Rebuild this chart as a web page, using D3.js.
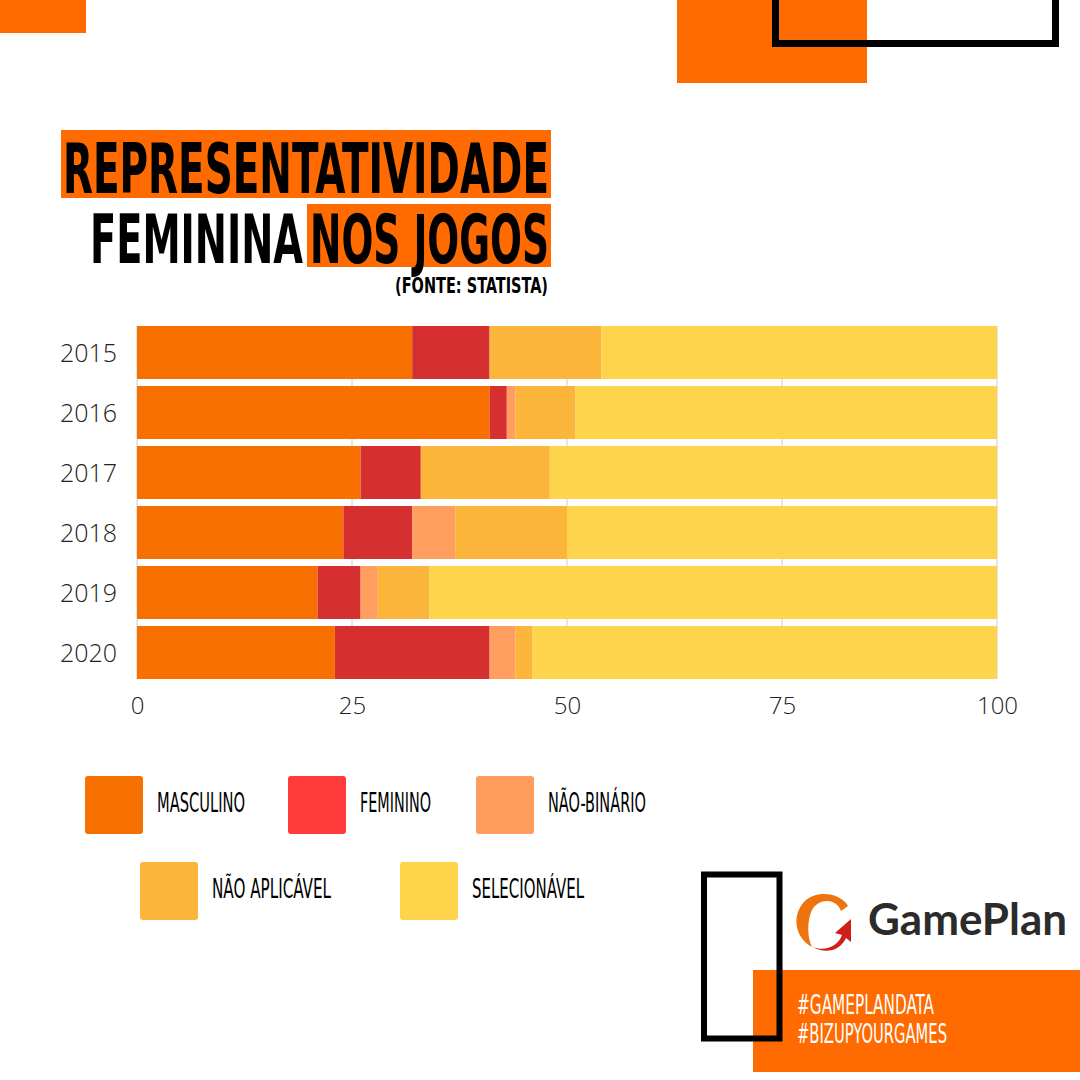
<!DOCTYPE html>
<html lang="pt">
<head>
  <meta charset="UTF-8">
  <title>Representatividade feminina nos jogos</title>
  <style>
    body, html {
        margin: 0;
        padding: 0;
        background-color: #FFFFFF;
    }
    #chart {
        display: block;
    }
    .cond {
        font-family: "Liberation Sans Narrow", "DejaVu Sans Condensed", "Roboto", sans-serif;
    }
    .tick text {
        font-family: "Open Sans", sans-serif;
        font-weight: 300;
        fill: #222;
    }
  </style>
</head>
<body>

<svg id="chart" width="1080" height="1080"></svg>

<script src="https://cdn.jsdelivr.net/npm/d3@7"></script>

<script>
// data (percent of games)
var years = ["2015", "2016", "2017", "2018", "2019", "2020"];
var masculino    = [32, 41, 26, 24, 21, 23];
var feminino     = [ 9,  2,  7,  8,  5, 18];
var naoBinario   = [ 0,  1,  0,  5,  2,  3];
var naoAplicavel = [13,  7, 15, 13,  6,  2];
var selecionavel = [46, 49, 52, 50, 66, 54];
var xTicks = [0, 25, 50, 75, 100];

var seriesKeys   = ["masculino", "feminino", "naoBinario", "naoAplicavel", "selecionavel"];
var seriesLabels = ["MASCULINO", "FEMININO", "NÃO-BINÁRIO", "NÃO APLICÁVEL", "SELECIONÁVEL"];
var barColors    = ["#F77000", "#D62F30", "#FF9E5E", "#FBB53B", "#FDD44B"];
var legendColors = ["#F77100", "#FF3B3B", "#FF9C5E", "#FBB53B", "#FED44A"];

var svg = d3.select("#chart");

var rows = years.map(function (y, i) {
  return {
    year: y,
    masculino: masculino[i],
    feminino: feminino[i],
    naoBinario: naoBinario[i],
    naoAplicavel: naoAplicavel[i],
    selecionavel: selecionavel[i]
  };
});

// decorations
svg.append("rect").attr("x", 0).attr("y", 0).attr("width", 86).attr("height", 33).attr("fill", "#FF6B00");
svg.append("rect").attr("x", 677).attr("y", 0).attr("width", 190).attr("height", 83).attr("fill", "#FF6B00");
svg.append("rect").attr("x", 775.5).attr("y", -10).attr("width", 280).attr("height", 53.5)
  .attr("fill", "none").attr("stroke", "#000").attr("stroke-width", 7);

// title
svg.append("rect").attr("x", 61).attr("y", 130).attr("width", 490).attr("height", 68).attr("fill", "#FF6B00");
svg.append("rect").attr("x", 307).attr("y", 204).attr("width", 244).attr("height", 63).attr("fill", "#FF6B00");

function condText(txt, x, y, size, width, color, weight) {
  return svg.append("text")
    .attr("class", "cond")
    .attr("x", x).attr("y", y)
    .attr("font-size", size)
    .attr("font-weight", weight || "bold")
    .attr("fill", color)
    .attr("textLength", width)
    .attr("lengthAdjust", "spacingAndGlyphs")
    .text(txt);
}

condText("REPRESENTATIVIDADE", 63, 193, 69, 486, "#000");
condText("FEMININA", 90, 263, 67, 213, "#000");
condText("NOS JOGOS", 310, 263, 67, 239, "#000");
condText("(FONTE: STATISTA)", 395, 293, 21, 153, "#000");

// chart
var x = d3.scaleLinear().domain([0, 100]).range([137, 997]);
var y = d3.scaleBand().domain(years).range([322.5, 682.5])
  .paddingInner(7 / 60).paddingOuter(3.5 / 60);

svg.append("g").selectAll("line")
  .data(xTicks)
  .join("line")
  .attr("x1", function (d) { return x(d); })
  .attr("x2", function (d) { return x(d); })
  .attr("y1", y(years[0]))
  .attr("y2", y(years[years.length - 1]) + y.bandwidth())
  .attr("stroke", "#CCCCCC")
  .attr("stroke-width", 1);

var stacked = d3.stack().keys(seriesKeys)(rows);

svg.append("g").selectAll("g")
  .data(stacked)
  .join("g")
  .attr("fill", function (d, i) { return barColors[i]; })
  .selectAll("rect")
  .data(function (d) { return d; })
  .join("rect")
  .attr("x", function (d) { return x(d[0]); })
  .attr("y", function (d) { return y(d.data.year); })
  .attr("width", function (d) { return x(d[1]) - x(d[0]); })
  .attr("height", y.bandwidth());

var yAxis = svg.append("g")
  .attr("transform", "translate(137,0)")
  .call(d3.axisLeft(y).tickSize(0).tickPadding(20));
yAxis.select(".domain").remove();
yAxis.selectAll("text").attr("font-size", 25).attr("dy", "0.38em");

var xAxis = svg.append("g")
  .attr("transform", "translate(0,679)")
  .call(d3.axisBottom(x).tickValues(xTicks).tickSize(0).tickPadding(18));
xAxis.select(".domain").remove();
xAxis.selectAll("text").attr("font-size", 24);

// legend
var legendPos = [[85, 776], [288, 776], [476, 776], [140, 862], [400, 862]];
var legendWidths = [88, 71, 98, 119, 112];

var legend = svg.append("g").selectAll("g")
  .data(seriesLabels)
  .join("g")
  .attr("transform", function (d, i) { return "translate(" + legendPos[i][0] + "," + legendPos[i][1] + ")"; });

legend.append("rect")
  .attr("width", 58).attr("height", 58).attr("rx", 3)
  .attr("fill", function (d, i) { return legendColors[i]; });

legend.append("text")
  .attr("class", "cond")
  .attr("x", 72).attr("y", 36)
  .attr("font-size", 26)
  .attr("fill", "#000")
  .attr("textLength", function (d, i) { return legendWidths[i]; })
  .attr("lengthAdjust", "spacingAndGlyphs")
  .text(function (d) { return d; });

// footer
svg.append("rect").attr("x", 753).attr("y", 970).attr("width", 327).attr("height", 102).attr("fill", "#FF6B00");
svg.append("rect").attr("x", 704).attr("y", 874.5).attr("width", 75.5).attr("height", 164)
  .attr("fill", "none").attr("stroke", "#000").attr("stroke-width", 6);

condText("#GAMEPLANDATA", 797, 1014, 26, 137, "#FFF", "normal");
condText("#BIZUPYOURGAMES", 797, 1043, 26, 150, "#FFF", "normal");

// logo
var logo = svg.append("g");
logo.append("path")
  .attr("d", "M848,906 C841,893 816,889 804,902 C792,915 794,937 812,947 C807,938 807,920 812,910 C819,898 836,898 841,911 Z")
  .attr("fill", "#EE7410");
logo.append("path")
  .attr("d", "M812,947 C826,952 838,946 842,935 L835,933 L851,919 L851,942 L846,938 C840,951 826,954 812,947 Z")
  .attr("fill", "#CF1F1A");
logo.append("text")
  .attr("x", 868).attr("y", 935)
  .attr("font-family", "Lato, 'Open Sans', sans-serif")
  .attr("font-weight", "bold")
  .attr("font-size", 44)
  .attr("fill", "#2B2B2B")
  .attr("textLength", 199)
  .attr("lengthAdjust", "spacingAndGlyphs")
  .text("GamePlan");
</script>

</body>
</html>
